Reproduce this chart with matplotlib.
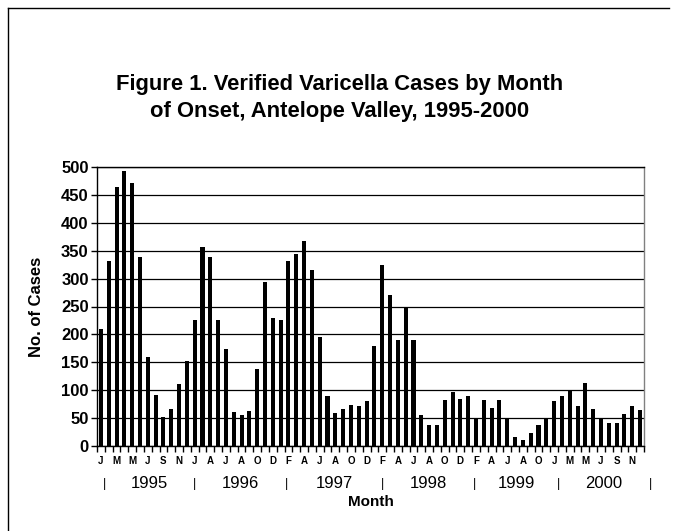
"""Verified varicella cases by month of onset, Antelope Valley, 1995-2000."""

import matplotlib

matplotlib.use("Agg")
import matplotlib.pyplot as plt
import numpy as np
from matplotlib.lines import Line2D

plt.rcParams["font.family"] = ["Liberation Sans", "DejaVu Sans"]

# monthly case counts (70 categories)
cases_1995 = [210, 331, 465, 493, 472, 339, 159, 91, 52, 66, 112, 152]
cases_1996 = [225, 357, 338, 225, 173, 61, 56, 63, 138, 294, 229, 225]
cases_1997 = [332, 344, 368, 316, 196, 90, 60, 67, 74, 72, 80, 179]
cases_1998 = [324, 270, 190, 249, 190, 55, 37, 37, 83, 96, 85, 90]
cases_1999 = [50, 82, 68, 83, 50, 17, 10, 24, 37, 50]
cases_2000 = [81, 90, 101, 72, 113, 66, 50, 41, 41, 57, 71, 65]

# every other category carries a month letter
month_labels = list("JMMJSN" "JAJAOD" "FAJAOD" "FAJAOD" "FAJAO" "JMMJSN")
years = ["1995", "1996", "1997", "1998", "1999", "2000"]
year_edges = [0.4, 12.0, 23.8, 36.0, 47.8, 58.5, 70.3]

cases = np.array(
    cases_1995 + cases_1996 + cases_1997 + cases_1998 + cases_1999 + cases_2000
)
x = np.arange(len(cases))

fig = plt.figure(figsize=(6.78, 5.31), dpi=100)
ax = fig.add_axes([97 / 678, 1 - 446 / 531, 547 / 678, 279 / 531])

ax.bar(x, cases, width=0.52, color="black", zorder=3)
ax.set_xlim(-0.5, len(cases) - 0.5)
ax.set_ylim(0, 500)

ax.set_yticks(np.arange(0, 501, 50))
ax.yaxis.grid(True, color="black", linewidth=0.9, zorder=1)
ax.tick_params(axis="y", direction="out", length=4, width=1, pad=2,
               labelsize=12)
for lab in ax.get_yticklabels():
    lab.set_fontweight("bold")

# category boundary ticks plus month letters underneath
ax.set_xticks(np.arange(-0.5, len(cases), 1.0))
ax.set_xticklabels([])
ax.tick_params(axis="x", direction="out", length=4, width=1)
for i, letter in enumerate(month_labels):
    ax.text(2 * i, -0.035, letter, transform=ax.get_xaxis_transform(),
            ha="center", va="top", fontsize=7, fontweight="bold")

for edge in year_edges:
    ax.text(edge, -0.135, "|", transform=ax.get_xaxis_transform(),
            ha="center", va="center", fontsize=9)
for yr, a, b in zip(years, year_edges[:-1], year_edges[1:]):
    ax.text((a + b) / 2, -0.135, yr, transform=ax.get_xaxis_transform(),
            ha="center", va="center", fontsize=12)

ax.text(0.5, -0.2, "Month", transform=ax.transAxes, ha="center",
        va="center", fontsize=11, fontweight="bold")
ax.set_ylabel("No. of Cases", fontsize=12, fontweight="bold", labelpad=12)

for side in ["left", "bottom", "top"]:
    ax.spines[side].set_color("black")
    ax.spines[side].set_linewidth(1)
ax.spines["right"].set_color("#808080")
ax.spines["right"].set_linewidth(1)

fig.text(340 / 678, 1 - 98 / 531,
         "Figure 1. Verified Varicella Cases by Month\n"
         "of Onset, Antelope Valley, 1995-2000",
         ha="center", va="center", fontsize=15.8, fontweight="bold",
         linespacing=1.35)

# outer chart frame (left and top edges visible)
fig.add_artist(Line2D([8 / 678, 8 / 678], [0, 1 - 8 / 531],
                      transform=fig.transFigure, color="black", lw=1))
fig.add_artist(Line2D([8 / 678, 669 / 678], [1 - 8 / 531, 1 - 8 / 531],
                      transform=fig.transFigure, color="black", lw=1))

fig.savefig("out.png", dpi=100)
